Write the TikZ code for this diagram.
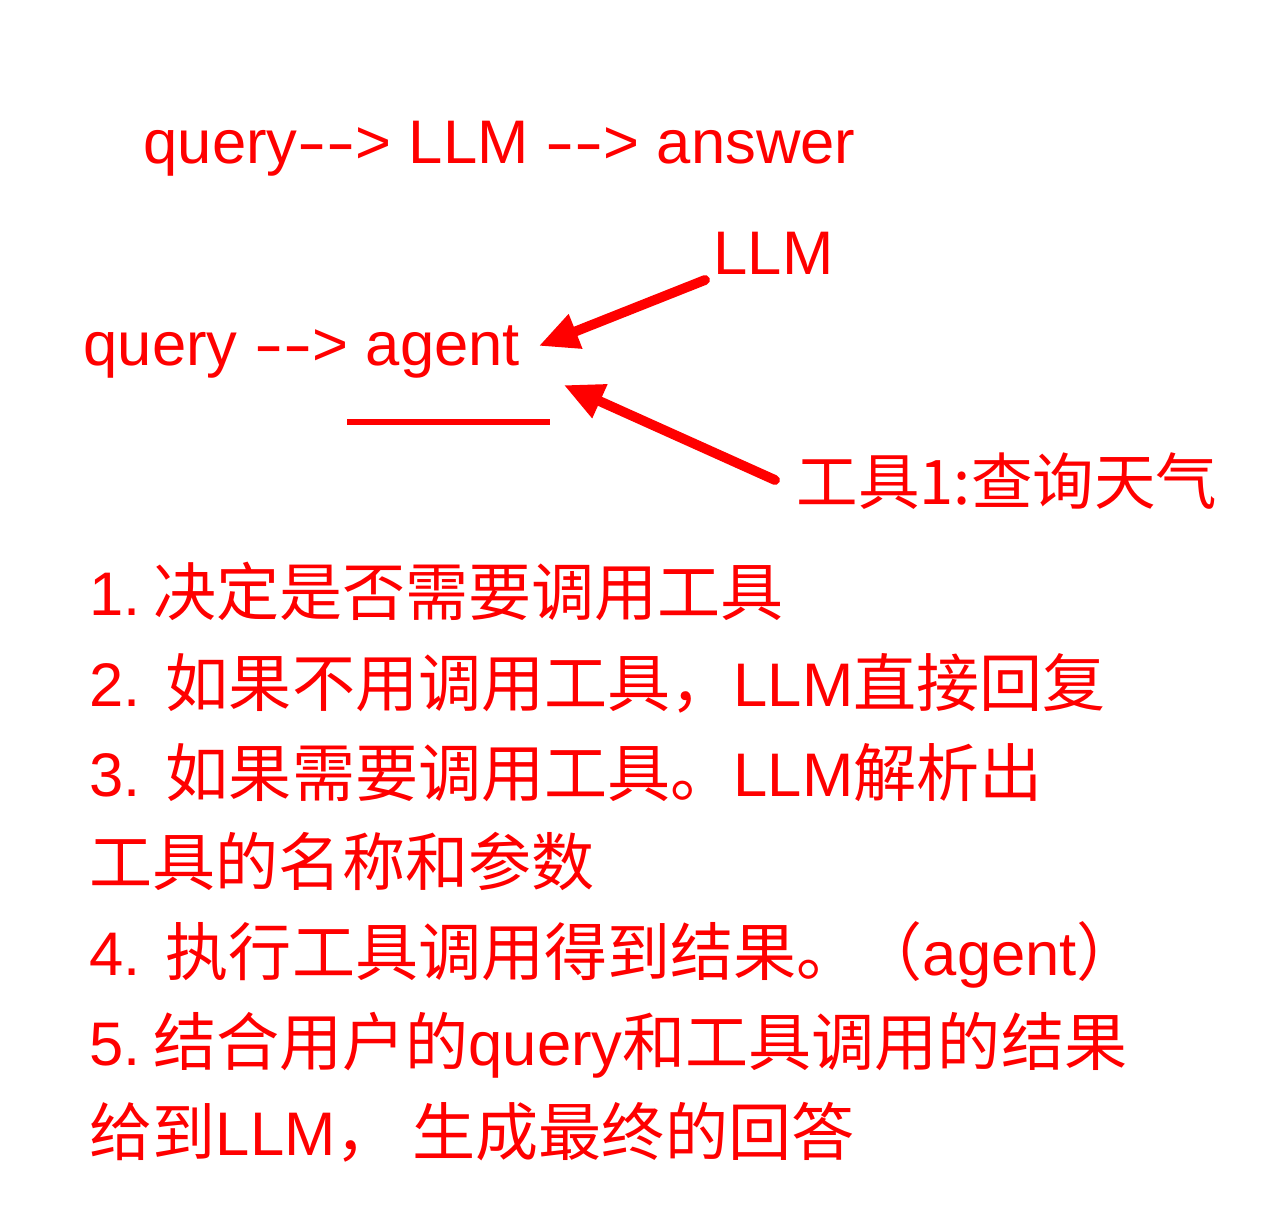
\documentclass[tikz,border=0pt]{standalone}
\usepackage{fontspec}
\setmainfont{Liberation Sans}
\newfontfamily\cjk[Scale=1.025]{Noto Sans CJK SC}
\newfontfamily\cjktool{Noto Sans CJK SC}
\usetikzlibrary{arrows.meta}
\newcommand{\hy}{{\addfontfeature{FakeStretch=1.42}-}}
\newcommand{\myarr}{\hy\kern0pt\hy\kern0pt>}
\tikzset{
  txt/.style={text=red, inner sep=0pt, anchor=base west, font=\fontsize{17.5pt}{21pt}\selectfont},
  redarrow/.style={draw=red, line width=2.8pt, line cap=round, -{Triangle[length=11.3pt,width=9.8pt]}},
  rule/.style={draw=red, line width=1.7pt}
}
\begin{document}
\begin{tikzpicture}[x=0.01cm, y=-0.01cm]
\path[use as bounding box] (0,0) rectangle (1278,1206);
\node[txt] (flow) at (143,163) {query\myarr\ LLM \myarr\ answer};
\node[txt] (agentline) at (83,365) {query \myarr\ agent};
\node[txt] (llm) at (713,274) {LLM};
\node[txt] (tool) at (796,504) {\cjktool 工具1:查询天气};
\draw[rule] (347,422) -- (550,422);
\draw[redarrow] ([shift={(-8,6)}]llm.base west) -- ([shift={(18,-19)}]agentline.base east);
\draw[redarrow] ([shift={(-21,-24)}]tool.base west) -- ([shift={(43,20)}]agentline.base east);
\node[txt] (l1) at (89,615) {1.\ \kern-1.4pt{\cjk 决定是否需要调用工具}};
\node[txt] (l2) at (89,706) {2.\ \kern2.2pt{\cjk 如果不用调用工具，}LLM{\cjk 直接回复}};
\node[txt] (l3) at (89,796) {3.\ \kern2.2pt{\cjk 如果需要调用工具。}LLM{\cjk 解析出}};
\node[txt] (l4) at (89,885) {{\cjk 工具的名称和参数}};
\node[txt] (l5) at (89,975) {4.\ \kern2.2pt{\cjk 执行工具调用得到结果。（}agent{\cjk ）}};
\node[txt] (l6) at (89,1065) {5.\ \kern-1.4pt{\cjk 结合用户的}query{\cjk 和工具调用的结果}};
\node[txt] (l7) at (89,1155) {{\cjk 给到}LLM{\cjk ，\ 生成最终的回答}};
\end{tikzpicture}
\end{document}
